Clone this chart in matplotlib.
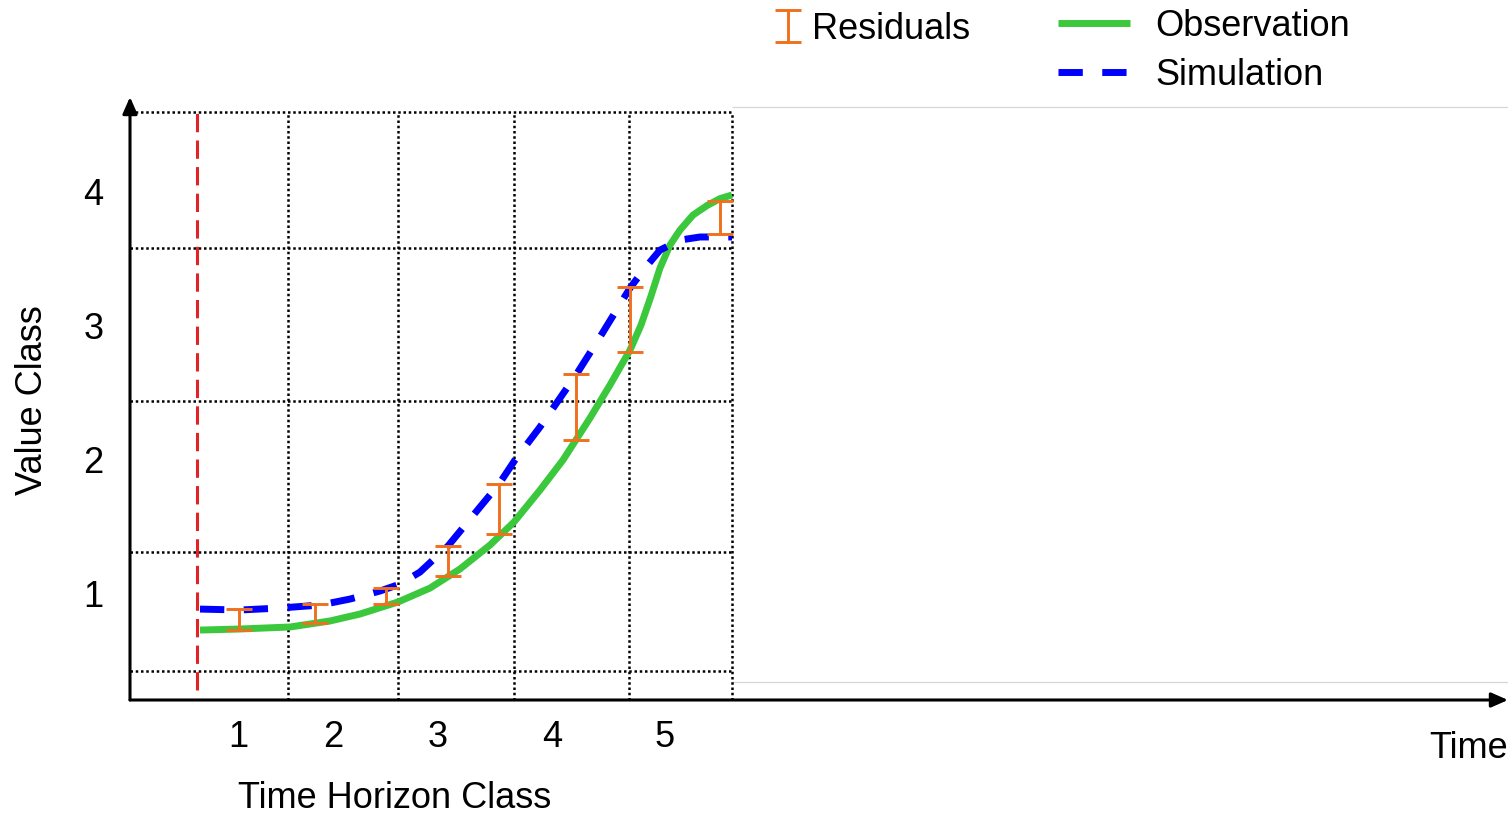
import numpy as np
import matplotlib.pyplot as plt
from matplotlib.container import ErrorbarContainer
from matplotlib.legend_handler import HandlerErrorbar

plt.rcParams['font.family'] = ['Liberation Sans', 'DejaVu Sans']

# time axis in drawing units, value axis in value classes
class_edges = [0.67, 1.58, 2.68, 3.84, 4.99, 6.02]
class_label_pos = [1.08, 2.03, 3.08, 4.22, 5.35]
class_labels = ['1', '2', '3', '4', '5']
value_ticks = [1, 2, 3, 4]
value_grid = [0.42, 1.31, 2.44, 3.58, 4.60]

# observed series
obs_t = [0.70, 1.10, 1.60, 2.00, 2.30, 2.68, 3.00, 3.30, 3.60, 3.84, 4.10, 4.33,
         4.60, 4.80, 5.00, 5.11, 5.21, 5.30, 5.40, 5.50, 5.63, 5.77, 5.90, 6.02]
obs_v = [0.723, 0.731, 0.746, 0.791, 0.843, 0.933, 1.037, 1.180, 1.359, 1.531, 1.770, 1.995,
         2.309, 2.556, 2.817, 3.004, 3.221, 3.431, 3.603, 3.715, 3.827, 3.898, 3.950, 3.977]

# simulated series
sim_t = [0.70, 1.10, 1.50, 1.90, 2.20, 2.50, 2.70, 2.90, 3.18, 3.50, 3.69,
         3.85, 4.10, 4.46, 4.70, 5.00, 5.15, 5.30, 5.50, 5.70, 6.02]
sim_v = [0.880, 0.873, 0.888, 0.910, 0.955, 1.015, 1.067, 1.157, 1.352, 1.643, 1.815,
         1.995, 2.242, 2.631, 2.915, 3.281, 3.431, 3.565, 3.640, 3.663, 3.663]

# residual bars between simulation and observation
res_t = [1.09, 1.85, 2.56, 3.18, 3.69, 4.46, 5.00, 5.90]
res_hi = [0.880, 0.918, 1.037, 1.352, 1.815, 2.638, 3.289, 3.932]
res_lo = [0.723, 0.776, 0.918, 1.127, 1.441, 2.144, 2.803, 3.685]

t_max = 13.78
v_min, v_max = 0.2, 4.71

green = '#3CC83C'
blue = '#0000FF'
orange = '#F0701E'
red = '#E02424'
fs = 26

fig = plt.figure(figsize=(15.09, 8.16), dpi=100)
ax = fig.add_axes([130 / 1509, 116 / 816, 1378 / 1509, 603 / 816])
ax.set_xlim(0, t_max)
ax.set_ylim(v_min, v_max)
for s in ax.spines.values():
    s.set_visible(False)

# dotted class grid
dots = (0, (1, 1.1))
ax.vlines(class_edges[1:], v_min, value_grid[-1], colors='black', linestyles=dots, lw=1.8, zorder=1)
ax.hlines(value_grid, 0, class_edges[-1], colors='black', linestyles=dots, lw=1.8, zorder=1)

# faint frame right of the classes
ax.hlines([0.334, 4.635], class_edges[-1], t_max, colors='#d6d6d6', lw=0.9, zorder=0)

# forecast start
ax.vlines(class_edges[0], 0.274, 4.628, colors=red, linestyles=(0, (6, 2.7)), lw=2.2, zorder=2)

obs_line, = ax.plot(obs_t, obs_v, color=green, lw=5, solid_capstyle='butt',
                    solid_joinstyle='round', zorder=3)
sim_line, = ax.plot(sim_t, sim_v, color=blue, lw=5, ls=(0, (3.5, 2.8)), zorder=4)

res_hi = np.array(res_hi)
res_lo = np.array(res_lo)
res = ax.errorbar(res_t, (res_hi + res_lo) / 2, yerr=(res_hi - res_lo) / 2, fmt='none',
                  ecolor=orange, elinewidth=2.1, capsize=9.4, capthick=2.1, zorder=5)

# axes drawn as arrows
arrow = dict(arrowstyle='-|>,head_length=0.5,head_width=0.22', lw=2.2, color='black',
             shrinkA=0, shrinkB=0, mutation_scale=20)
ax.annotate('', xy=(1, 0), xytext=(0, 0), xycoords='axes fraction', arrowprops=arrow)
ax.annotate('', xy=(0, 1), xytext=(0, 0), xycoords='axes fraction', arrowprops=arrow)

ax.set_xticks(class_label_pos, class_labels)
ax.set_yticks(value_ticks, [str(v) for v in value_ticks])
ax.tick_params(axis='x', length=0, pad=14.6, labelsize=fs)
ax.tick_params(axis='y', length=0, pad=19, labelsize=fs)

ax.set_xlabel('Time Horizon Class', fontsize=fs, va='center')
ax.xaxis.set_label_coords(0.192, -0.164)
ax.set_ylabel('Value Class', fontsize=fs, va='center')
ax.yaxis.set_label_coords(-0.071, 0.497)
ax.text(1.0, -0.081, 'Time', transform=ax.transAxes, ha='right', va='center', fontsize=fs)

# legends
leg1 = fig.legend([res], ['Residuals'], loc='upper left', bbox_to_anchor=(773.6 / 1509, 1 - 12 / 816),
                  frameon=False, fontsize=fs, handlelength=0.8, handletextpad=0.27, borderpad=0,
                  borderaxespad=0, handler_map={ErrorbarContainer: HandlerErrorbar(yerr_size=0.44)})
leg2 = fig.legend([obs_line, sim_line], ['Observation', 'Simulation'], loc='upper left',
                  bbox_to_anchor=(1058 / 1509, 1 - 8.5 / 816), frameon=False, fontsize=fs,
                  handlelength=2.0, handletextpad=0.69, labelspacing=0.39, borderpad=0,
                  borderaxespad=0)

fig.savefig('out.png', dpi=100)
